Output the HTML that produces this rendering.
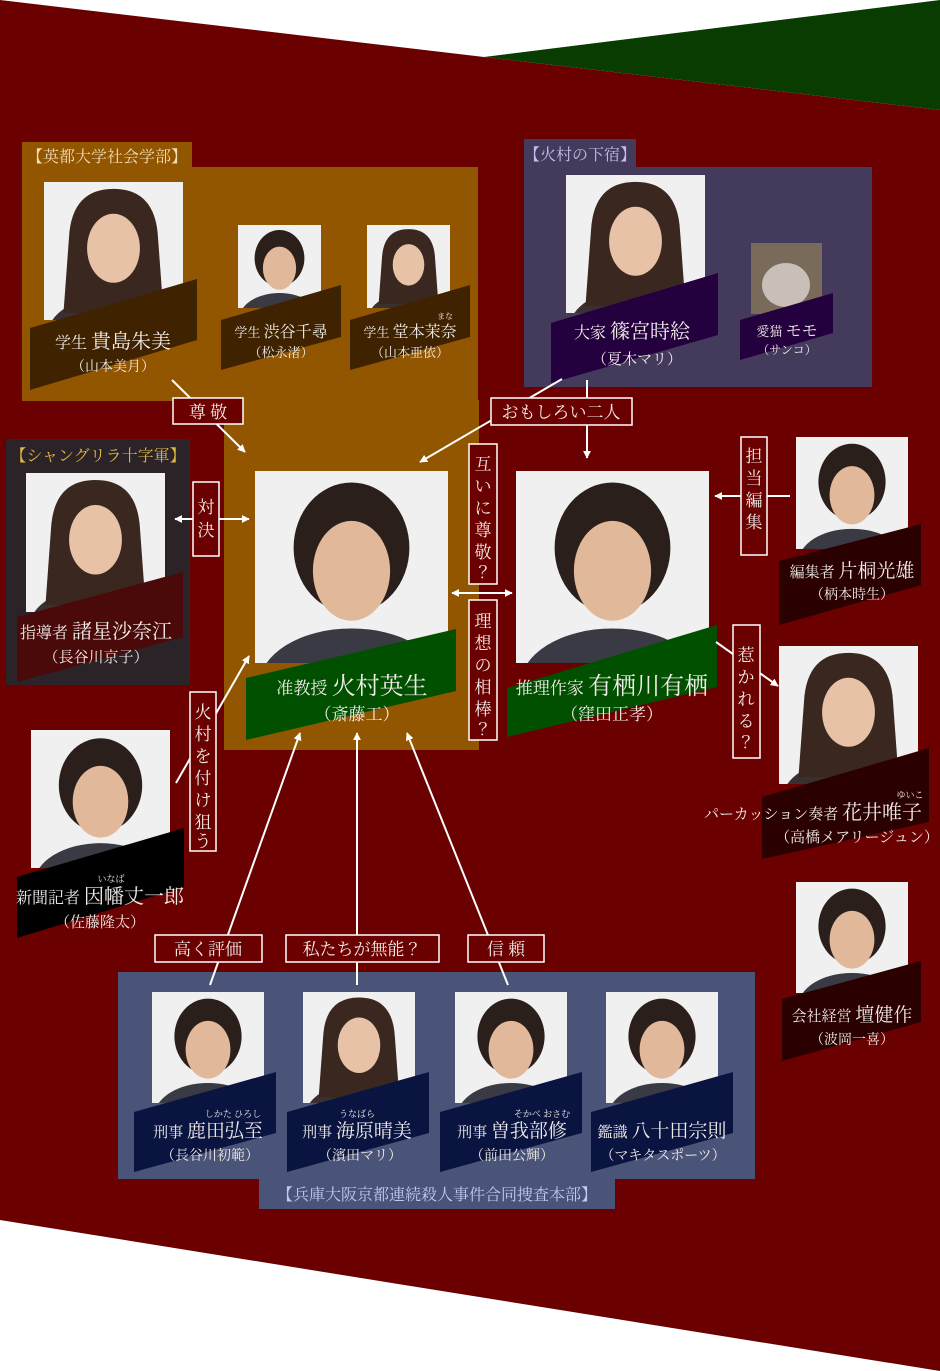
<!DOCTYPE html>
<html><head><meta charset="utf-8"><style>
html,body{margin:0;padding:0;background:#fff}
svg{display:block}
text{font-family:"Liberation Serif","Noto Serif CJK JP","Noto Serif CJK SC",serif;fill:#f0ece8}
</style></head><body>
<svg width="940" height="1371" viewBox="0 0 940 1371" xmlns="http://www.w3.org/2000/svg">
<defs>
<marker id="ah" viewBox="0 0 10 10" refX="9" refY="5" markerWidth="4" markerHeight="4" orient="auto-start-reverse"><path d="M0,0L10,5L0,10z" fill="#fff"/></marker>
<symbol id="p" viewBox="0 0 100 100" preserveAspectRatio="none">
<rect width="100" height="100" fill="#f0f0f0"/>
<ellipse cx="50" cy="112" rx="48" ry="30" fill="#3a3a44"/>
<ellipse cx="50" cy="40" rx="30" ry="34" fill="#2a1f1a"/>
<ellipse cx="50" cy="52" rx="20" ry="26" fill="#e2b89a"/>
</symbol>
<symbol id="pf" viewBox="0 0 100 100" preserveAspectRatio="none">
<rect width="100" height="100" fill="#f0f0f0"/>
<ellipse cx="50" cy="112" rx="48" ry="30" fill="#3a3030"/>
<path d="M18,40 Q20,5 50,5 Q80,5 82,40 L86,95 L14,95z" fill="#3a2820"/>
<ellipse cx="50" cy="48" rx="19" ry="25" fill="#e8c2a6"/>
</symbol>
</defs>
<!-- background -->
<polygon points="0,0 484,57 940,110 940,1371 0,1220" fill="#6b0000"/>
<polygon points="484,57 940,0 940,110" fill="#083c00"/>

<!-- Eito group -->
<rect x="22" y="142" width="170" height="26" fill="#935600"/>
<rect x="22" y="167" width="456" height="234" fill="#935600"/>
<rect x="224" y="400" width="255" height="350" fill="#935600"/>
<text x="107" y="162" text-anchor="middle" font-size="16" style="fill:#f2dcb4">【英都大学社会学部】</text>

<use href="#pf" x="44" y="182" width="139" height="138"/>
<polygon points="30,328 197,279 197,340 30,390" fill="#3f2200"/>
<text x="113" y="348" text-anchor="middle"><tspan font-size="16">学生 </tspan><tspan font-size="20"> 貴島朱美</tspan></text>
<text x="113" y="371" text-anchor="middle" font-size="14">（山本美月）</text>

<use href="#p" x="238" y="225" width="83" height="83"/>
<polygon points="221,320 341,285 341,337 221,370" fill="#3f2200"/>
<text x="281" y="337" text-anchor="middle"><tspan font-size="13">学生 </tspan><tspan font-size="16"> 渋谷千尋</tspan></text>
<text x="281" y="357" text-anchor="middle" font-size="13">（松永渚）</text>

<use href="#pf" x="367" y="225" width="83" height="83"/>
<polygon points="350,320 470,285 470,337 350,370" fill="#3f2200"/>
<text x="445" y="319" text-anchor="middle" font-size="8">まな</text>
<text x="410" y="337" text-anchor="middle"><tspan font-size="13">学生 </tspan><tspan font-size="16"> 堂本茉奈</tspan></text>
<text x="410" y="357" text-anchor="middle" font-size="13">（山本亜依）</text>

<!-- Hongo group -->
<rect x="524" y="139" width="112" height="29" fill="#433a5c"/>
<rect x="524" y="167" width="348" height="220" fill="#433a5c"/>
<text x="580" y="160" text-anchor="middle" font-size="16" style="fill:#c8bcec">【火村の下宿】</text>
<use href="#pf" x="566" y="175" width="139" height="138"/>
<polygon points="551,323 718,273 718,335 551,383" fill="#24003f"/>
<text x="632" y="338" text-anchor="middle"><tspan font-size="16">大家 </tspan><tspan font-size="20"> 篠宮時絵</tspan></text>
<text x="637" y="364" text-anchor="middle" font-size="15">（夏木マリ）</text>
<rect x="751" y="243" width="71" height="71" fill="#7a6a5a"/>
<ellipse cx="786" cy="285" rx="24" ry="22" fill="#c8c0b8"/>
<polygon points="740,320 833,293 833,333 740,360" fill="#24003f"/>
<text x="787" y="336" text-anchor="middle"><tspan font-size="13">愛猫 </tspan><tspan font-size="16"> モモ</tspan></text>
<text x="787" y="354" text-anchor="middle" font-size="12">（サンコ）</text>

<!-- Shangri-la -->
<rect x="6" y="439" width="184" height="246" fill="#2b2328"/>
<text x="98" y="461" text-anchor="middle" font-size="16" style="fill:#e0b840">【シャングリラ十字軍】</text>
<use href="#pf" x="26" y="473" width="139" height="139"/>
<polygon points="17,617 183,572 183,637 17,682" fill="#4a0a0a"/>
<text x="96" y="638" text-anchor="middle"><tspan font-size="16">指導者 </tspan><tspan font-size="20"> 諸星沙奈江</tspan></text>
<text x="96" y="662" text-anchor="middle" font-size="15">（長谷川京子）</text>

<!-- Inaba -->
<use href="#p" x="31" y="730" width="139" height="138"/>
<polygon points="17,877 184,828 184,887 17,938" fill="#000"/>
<text x="111" y="882" text-anchor="middle" font-size="9">いなば</text>
<text x="100" y="903" text-anchor="middle"><tspan font-size="16">新聞記者 </tspan><tspan font-size="20"> 因幡丈一郎</tspan></text>
<text x="100" y="927" text-anchor="middle" font-size="15">（佐藤隆太）</text>

<!-- Himura -->
<use href="#p" x="255" y="471" width="193" height="192"/>
<polygon points="246,678 456,629 456,691 246,740" fill="#005000"/>
<text x="352" y="694" text-anchor="middle"><tspan font-size="17">准教授 </tspan><tspan font-size="24"> 火村英生</tspan></text>
<text x="357" y="720" text-anchor="middle" font-size="17">（斎藤工）</text>

<!-- Arisugawa -->
<use href="#p" x="516" y="471" width="193" height="192"/>
<polygon points="507,688 717,625 717,687 507,737" fill="#005000"/>
<text x="612" y="694" text-anchor="middle"><tspan font-size="17">推理作家 </tspan><tspan font-size="24"> 有栖川有栖</tspan></text>
<text x="612" y="720" text-anchor="middle" font-size="17">（窪田正孝）</text>

<!-- Katagiri -->
<use href="#p" x="796" y="437" width="112" height="112"/>
<polygon points="779,561 921,524 921,585 779,625" fill="#2a0000"/>
<text x="852" y="577" text-anchor="middle"><tspan font-size="15">編集者 </tspan><tspan font-size="19"> 片桐光雄</tspan></text>
<text x="852" y="599" text-anchor="middle" font-size="14">（柄本時生）</text>

<!-- Hanai -->
<use href="#pf" x="779" y="646" width="139" height="138"/>
<polygon points="762,797 929,748 929,822 762,859" fill="#2a0000"/>
<text x="910" y="798" text-anchor="middle" font-size="9">ゆいこ</text>
<text x="813" y="819" text-anchor="middle"><tspan font-size="15">パーカッション奏者 </tspan><tspan font-size="20"> 花井唯子</tspan></text>
<text x="857" y="842" text-anchor="middle" font-size="15">（高橋メアリージュン）</text>

<!-- Dan -->
<use href="#p" x="796" y="882" width="112" height="111"/>
<polygon points="782,999 921,961 921,1022 782,1061" fill="#2a0000"/>
<text x="852" y="1021" text-anchor="middle"><tspan font-size="15">会社経営 </tspan><tspan font-size="19"> 壇健作</tspan></text>
<text x="852" y="1044" text-anchor="middle" font-size="14">（波岡一喜）</text>

<!-- Police -->
<rect x="118" y="972" width="637" height="207" fill="#4a5478"/>
<rect x="259" y="1178" width="356" height="31" fill="#4a5478"/>
<text x="437" y="1200" text-anchor="middle" font-size="16" style="fill:#c0c8f4">【兵庫大阪京都連続殺人事件合同捜査本部】</text>

<use href="#p" x="152" y="992" width="112" height="111"/>
<polygon points="134,1112 276,1072 276,1133 134,1172" fill="#0a1440"/>
<text x="233" y="1117" text-anchor="middle" font-size="9">しかた ひろし</text>
<text x="208" y="1137" text-anchor="middle"><tspan font-size="15">刑事 </tspan><tspan font-size="19"> 鹿田弘至</tspan></text>
<text x="210" y="1160" text-anchor="middle" font-size="14">（長谷川初範）</text>

<use href="#pf" x="303" y="992" width="112" height="111"/>
<polygon points="287,1112 429,1072 429,1133 287,1172" fill="#0a1440"/>
<text x="357" y="1117" text-anchor="middle" font-size="9">うなばら</text>
<text x="357" y="1137" text-anchor="middle"><tspan font-size="15">刑事 </tspan><tspan font-size="19"> 海原晴美</tspan></text>
<text x="360" y="1160" text-anchor="middle" font-size="14">（濱田マリ）</text>

<use href="#p" x="455" y="992" width="112" height="111"/>
<polygon points="440,1112 582,1072 582,1133 440,1172" fill="#0a1440"/>
<text x="542" y="1117" text-anchor="middle" font-size="9">そかべ おさむ</text>
<text x="512" y="1137" text-anchor="middle"><tspan font-size="15">刑事 </tspan><tspan font-size="19"> 曽我部修</tspan></text>
<text x="512" y="1160" text-anchor="middle" font-size="14">（前田公輝）</text>

<use href="#p" x="606" y="992" width="112" height="111"/>
<polygon points="591,1112 733,1072 733,1133 591,1172" fill="#0a1440"/>
<text x="662" y="1137" text-anchor="middle"><tspan font-size="15">鑑識 </tspan><tspan font-size="19"> 八十田宗則</tspan></text>
<text x="663" y="1160" text-anchor="middle" font-size="14">（マキタスポーツ）</text>

<!-- connectors -->
<g stroke="#fff" stroke-width="2" fill="none">
<line x1="172" y1="380" x2="245" y2="452" marker-end="url(#ah)"/>
<line x1="562" y1="379" x2="420" y2="462" marker-end="url(#ah)"/>
<line x1="587" y1="380" x2="587" y2="458" marker-end="url(#ah)"/>
<line x1="175" y1="519" x2="249" y2="519" marker-start="url(#ah)" marker-end="url(#ah)"/>
<line x1="452" y1="593" x2="512" y2="593" marker-start="url(#ah)" marker-end="url(#ah)"/>
<line x1="790" y1="496" x2="715" y2="496" marker-end="url(#ah)"/>
<line x1="716" y1="642" x2="778" y2="686" marker-end="url(#ah)"/>
<line x1="176" y1="783" x2="249" y2="656" marker-end="url(#ah)"/>
<line x1="210" y1="985" x2="300" y2="733" marker-end="url(#ah)"/>
<line x1="357" y1="985" x2="357" y2="733" marker-end="url(#ah)"/>
<line x1="508" y1="985" x2="407" y2="733" marker-end="url(#ah)"/>
</g>

<!-- labels -->
<g fill="#6b0000" stroke="#fff" stroke-width="1.5">
<rect x="173" y="398" width="70" height="26"/>
<rect x="491" y="398" width="141" height="27"/>
<rect x="193" y="482" width="26" height="74"/>
<rect x="469" y="444" width="28" height="140"/>
<rect x="469" y="600" width="28" height="140"/>
<rect x="741" y="437" width="26" height="118"/>
<rect x="733" y="625" width="27" height="133"/>
<rect x="190" y="692" width="26" height="159"/>
<rect x="155" y="935" width="107" height="27"/>
<rect x="286" y="935" width="153" height="27"/>
<rect x="468" y="935" width="76" height="27"/>
</g>
<g font-size="17" text-anchor="middle">
<text x="208" y="418">尊 敬</text>
<text x="561" y="418">おもしろい二人</text>
<text x="208" y="955">高く評価</text>
<text x="362" y="955">私たちが無能？</text>
<text x="506" y="955">信 頼</text>
</g>
<g font-size="17" text-anchor="middle">
<text x="206" y="513">対</text><text x="206" y="536">決</text>
<text x="483" y="470">互</text><text x="483" y="492">い</text><text x="483" y="514">に</text><text x="483" y="536">尊</text><text x="483" y="558">敬</text><text x="483" y="578">？</text>
<text x="483" y="627">理</text><text x="483" y="649">想</text><text x="483" y="671">の</text><text x="483" y="693">相</text><text x="483" y="715">棒</text><text x="483" y="735">？</text>
<text x="754" y="462">担</text><text x="754" y="484">当</text><text x="754" y="506">編</text><text x="754" y="528">集</text>
<text x="746" y="661">惹</text><text x="746" y="683">か</text><text x="746" y="705">れ</text><text x="746" y="727">る</text><text x="746" y="748">？</text>
<text x="203" y="718">火</text><text x="203" y="740">村</text><text x="203" y="762">を</text><text x="203" y="784">付</text><text x="203" y="806">け</text><text x="203" y="828">狙</text><text x="203" y="847">う</text>
</g>
</svg>
</body></html>
